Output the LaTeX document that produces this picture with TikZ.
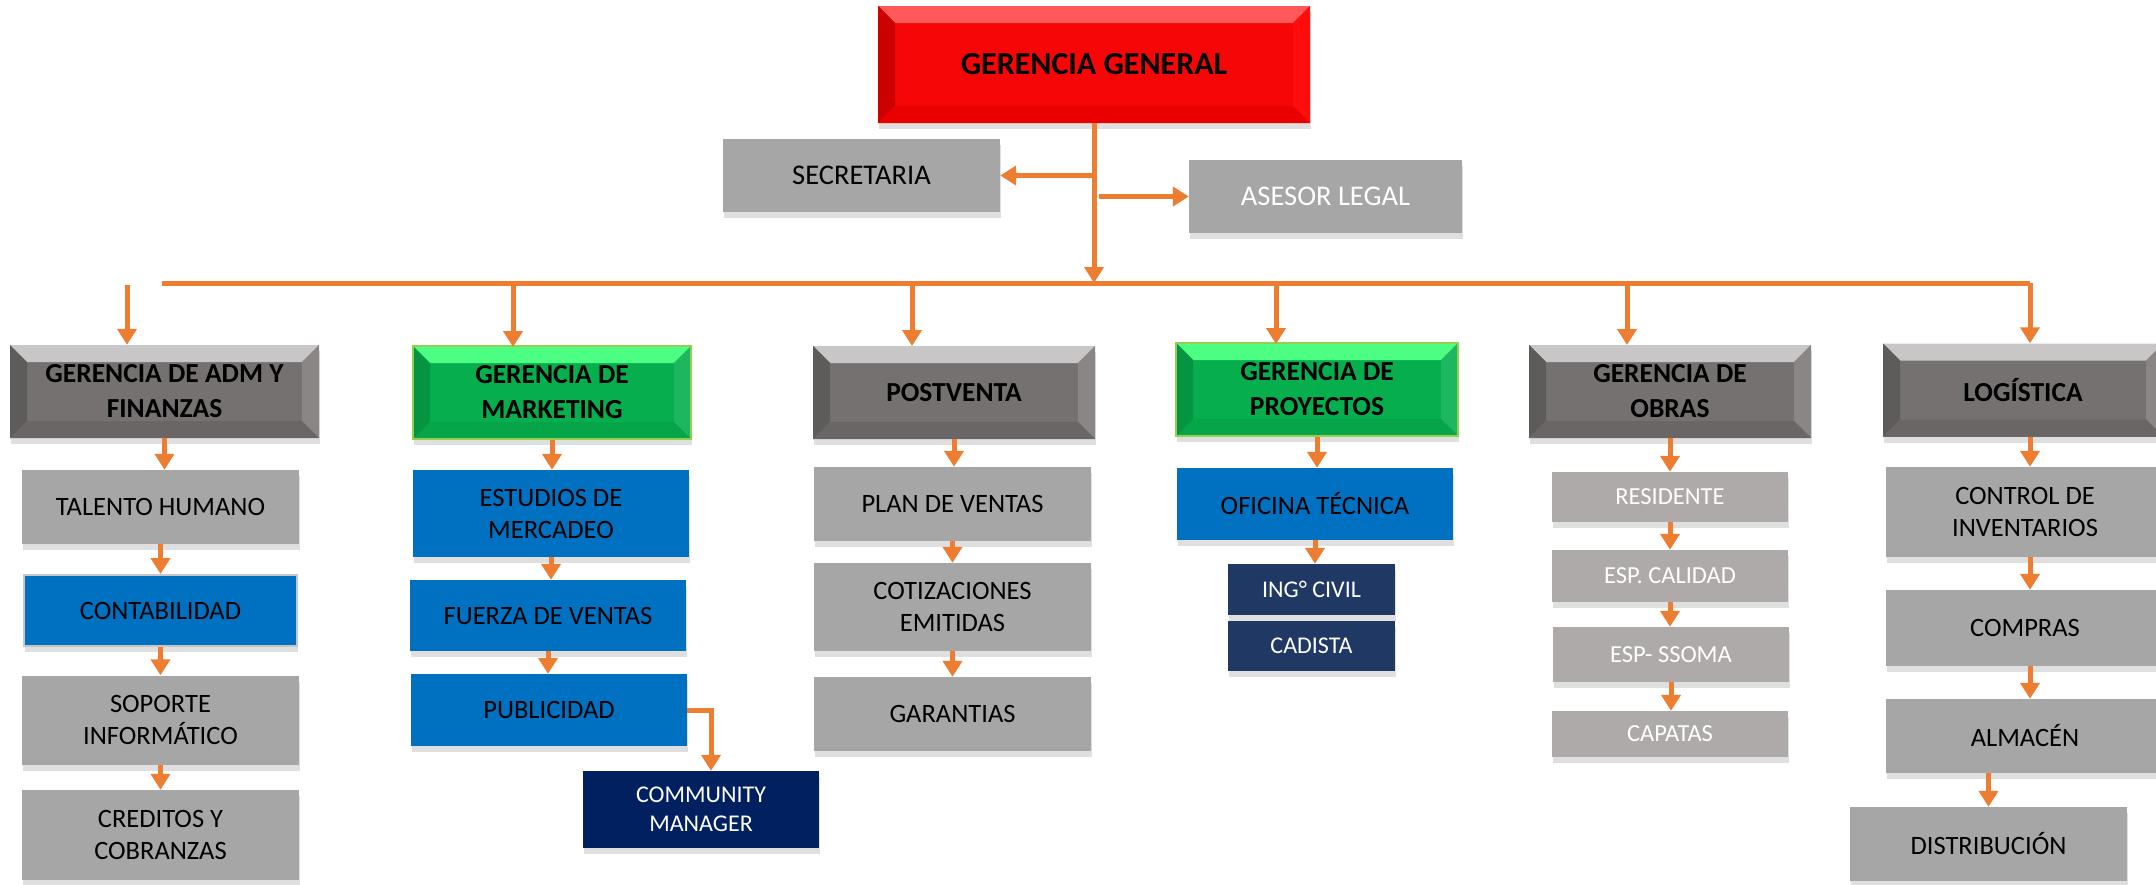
\documentclass[tikz,border=0pt]{standalone}
\usepackage{fontspec}
\setmainfont{Carlito}
\usetikzlibrary{arrows.meta,shadows}

\definecolor{orgline}{HTML}{ED7D31}
\definecolor{boxgray}{HTML}{A6A6A6}
\definecolor{obrgray}{HTML}{AEAAAA}
\definecolor{boxblue}{HTML}{0070C0}
\definecolor{navy}{HTML}{1F3864}
\definecolor{darknavy}{HTML}{002060}
\definecolor{grface}{HTML}{767171}
\definecolor{redface}{HTML}{F60606}
\definecolor{grnface}{HTML}{06AE4E}

\tikzset{
  bevel/.style n args={5}{fill=#1, path picture={
    \path (path picture bounding box.north west) coordinate (pa)
          (path picture bounding box.north east) coordinate (pb)
          (path picture bounding box.south east) coordinate (pc)
          (path picture bounding box.south west) coordinate (pd);
    \path ([xshift=17pt,yshift=-17pt]pa) coordinate (qa)
          ([xshift=-17pt,yshift=-17pt]pb) coordinate (qb)
          ([xshift=-17pt,yshift=17pt]pc) coordinate (qc)
          ([xshift=17pt,yshift=17pt]pd) coordinate (qd);
    \fill[#2] (pa) -- (pb) -- (qb) -- (qa) -- cycle;
    \fill[#3] (pa) -- (qa) -- (qd) -- (pd) -- cycle;
    \fill[#4] (pb) -- (pc) -- (qc) -- (qb) -- cycle;
    \fill[#5] (pd) -- (qd) -- (qc) -- (pc) -- cycle;
  }},
}

\begin{document}
\begin{tikzpicture}[x=1pt,y=-1pt]
  \tikzstyle{arr} = [draw=orgline,line width=5pt,-{Triangle[width=19pt,length=16pt]}]
  \tikzstyle{wire} = [draw=orgline,line width=5pt]
  \tikzstyle{box} = [rectangle,inner sep=0pt,align=center,drop shadow={shadow xshift=1pt,shadow yshift=-6pt,opacity=0.25}]
  \tikzstyle{graybox} = [box,fill=boxgray,font=\fontsize{26.5}{32}\selectfont]
  \tikzstyle{bluebox} = [box,fill=boxblue,font=\fontsize{26.5}{32}\selectfont]
  \tikzstyle{obrbox} = [box,fill=obrgray,text=white,minimum width=236pt,font=\fontsize{24.5}{28}\selectfont]
  \tikzstyle{navybox} = [box,fill=navy,text=white,minimum width=167pt,font=\fontsize{24}{28}\selectfont]
  \tikzstyle{hdgray} = [box,bevel={grface}{grface!40!white}{grface!80!black}{grface!85!white}{grface!90!black},minimum height=93pt,font=\bfseries\fontsize{27.5}{35}\selectfont]
  \tikzstyle{hdgreen} = [box,draw={rgb,255:red,146;green,208;blue,80},line width=2pt,bevel={grnface}{green!70!cyan!70!white}{grnface!85!black}{grnface!90!white}{grnface!95!black},minimum height=93pt,font=\bfseries\fontsize{27.5}{35}\selectfont]
  \useasboundingbox (0,0) rectangle (2156,884);

  % top
  \node[box,bevel={redface}{red!65!white}{red!80!black}{red!95!white}{red!92!black},minimum width=432pt,minimum height=117pt,font=\bfseries\fontsize{32}{38}\selectfont] (gg) at (1094,64.5) {GERENCIA GENERAL};
  \node[graybox,font=\fontsize{28.5}{34}\selectfont,minimum width=277pt,minimum height=73pt] (sec) at (861.5,175.5) {SECRETARIA};
  \node[graybox,font=\fontsize{28.5}{34}\selectfont,text=white,minimum width=273pt,minimum height=73pt] (ase) at (1325.5,196.5) {ASESOR LEGAL};

  % gerencias
  \node[hdgray,minimum width=309pt] (adm) at (164.5,391.5) {GERENCIA DE ADM Y\\FINANZAS};
  \node[hdgreen,minimum width=278pt] (mkt) at (552,392.5) {GERENCIA DE\\MARKETING};
  \node[hdgray,minimum width=282pt] (pv) at (954,392.5) {POSTVENTA};
  \node[hdgreen,minimum width=282pt] (proy) at (1317,389.5) {GERENCIA DE\\PROYECTOS};
  \node[hdgray,minimum width=282pt] (obr) at (1670,391.5) {GERENCIA DE\\OBRAS};
  \node[hdgray,minimum width=280pt] (logi) at (2023,390) {LOGÍSTICA};

  % adm y finanzas
  \node[graybox,minimum width=277pt,minimum height=74pt] (th) at (160.5,507) {TALENTO HUMANO};
  \node[bluebox,draw=gray!45,line width=2pt,minimum width=273pt,minimum height=71pt] (cont) at (160.5,610.5) {CONTABILIDAD};
  \node[graybox,minimum width=277pt,minimum height=89pt] (sop) at (160.5,720) {SOPORTE\\INFORMÁTICO};
  \node[graybox,minimum width=277pt,minimum height=90pt] (cred) at (160.5,835) {CREDITOS Y\\COBRANZAS};

  % marketing
  \node[bluebox,minimum width=276pt,minimum height=87pt] (est) at (551,513.5) {ESTUDIOS DE\\MERCADEO};
  \node[bluebox,minimum width=276pt,minimum height=71pt] (fv) at (548,615.5) {FUERZA DE VENTAS};
  \node[bluebox,minimum width=276pt,minimum height=72pt] (pub) at (549,710) {PUBLICIDAD};
  \node[box,fill=darknavy,text=white,minimum width=236pt,minimum height=77pt,font=\fontsize{24}{29}\selectfont] (cm) at (701,809.5) {COMMUNITY\\MANAGER};

  % postventa
  \node[graybox,minimum width=277pt,minimum height=74pt] (plan) at (952.5,504) {PLAN DE VENTAS};
  \node[graybox,minimum width=277pt,minimum height=88pt] (cot) at (952.5,607) {COTIZACIONES\\EMITIDAS};
  \node[graybox,minimum width=277pt,minimum height=74pt] (gar) at (952.5,714) {GARANTIAS};

  % proyectos
  \node[bluebox,minimum width=276pt,minimum height=72pt] (ofi) at (1315,504) {OFICINA TÉCNICA};
  \node[navybox,minimum height=51pt] (ing) at (1311.5,589.5) {ING° CIVIL};
  \node[navybox,minimum height=50pt] (cad) at (1311.5,646) {CADISTA};

  % obras
  \node[obrbox,minimum height=50pt] (res) at (1670,497) {RESIDENTE};
  \node[obrbox,minimum height=52pt] (cal) at (1670,576) {ESP. CALIDAD};
  \node[obrbox,minimum height=55pt] (sso) at (1671,654.5) {ESP- SSOMA};
  \node[obrbox,minimum height=46pt] (cap) at (1670,734) {CAPATAS};

  % logistica
  \node[graybox,minimum width=278pt,minimum height=90pt] (inv) at (2025,512) {CONTROL DE\\INVENTARIOS};
  \node[graybox,minimum width=278pt,minimum height=76pt] (com) at (2025,628) {COMPRAS};
  \node[graybox,minimum width=278pt,minimum height=74pt] (alm) at (2025,736) {ALMACÉN};
  \node[graybox,minimum width=277pt,minimum height=74pt] (dis) at (1988.5,844) {DISTRIBUCIÓN};

  % conectores superiores
  \coordinate (busL) at (162,283);
  \coordinate (busR) at (2030,283);
  \coordinate (admin) at (127,285);
  \draw[arr] (gg.south) -- (gg.south |- busL);
  \draw[arr] (sec.east -| gg.south) -- (sec.east);
  \draw[arr] ([xshift=5pt]ase.west -| gg.south) -- (ase.west);
  \draw[wire] (busL) -- (busR);
  \draw[arr] (busR) -- (busR |- logi.north);
  \draw[arr] (admin) -- (admin |- adm.north);
  \draw[arr] (513,283) -- (513,347);
  \draw[arr] (912,283) -- (912,346);
  \draw[arr] (1276,283) -- (1276,344);
  \draw[arr] (1627,283) -- (1627,345);

  % conectores por area
  \draw[arr] (adm.south) -- (adm.south |- th.north);
  \draw[arr] (th.south) -- (th.south |- cont.north);
  \draw[arr] (cont.south) -- (cont.south |- sop.north);
  \draw[arr] (sop.south) -- (sop.south |- cred.north);
  \draw[arr] (mkt.south) -- (mkt.south |- est.north);
  \draw[arr] (est.south) -- (est.south |- fv.north);
  \draw[arr] (fv.south) -- (fv.south |- pub.north);
  \draw[arr] (pub.east) -| ([xshift=10pt]cm.north);
  \draw[arr] (pv.south) -- (pv.south |- plan.north);
  \draw[arr] (plan.south) -- (plan.south |- cot.north);
  \draw[arr] (cot.south) -- (cot.south |- gar.north);
  \draw[arr] (proy.south) -- (proy.south |- ofi.north);
  \draw[arr] (ofi.south) -- (ofi.south |- ing.north);
  \draw[arr] (obr.south) -- (obr.south |- res.north);
  \draw[arr] (res.south) -- (res.south |- cal.north);
  \draw[arr] (cal.south) -- (cal.south |- sso.north);
  \draw[arr] (sso.south) -- (sso.south |- cap.north);
  \draw[arr] (busR |- logi.south) -- (busR |- inv.north);
  \draw[arr] (busR |- inv.south) -- (busR |- com.north);
  \draw[arr] (busR |- com.south) -- (busR |- alm.north);
  \draw[arr] (dis.north |- alm.south) -- (dis.north);
\end{tikzpicture}
\end{document}
